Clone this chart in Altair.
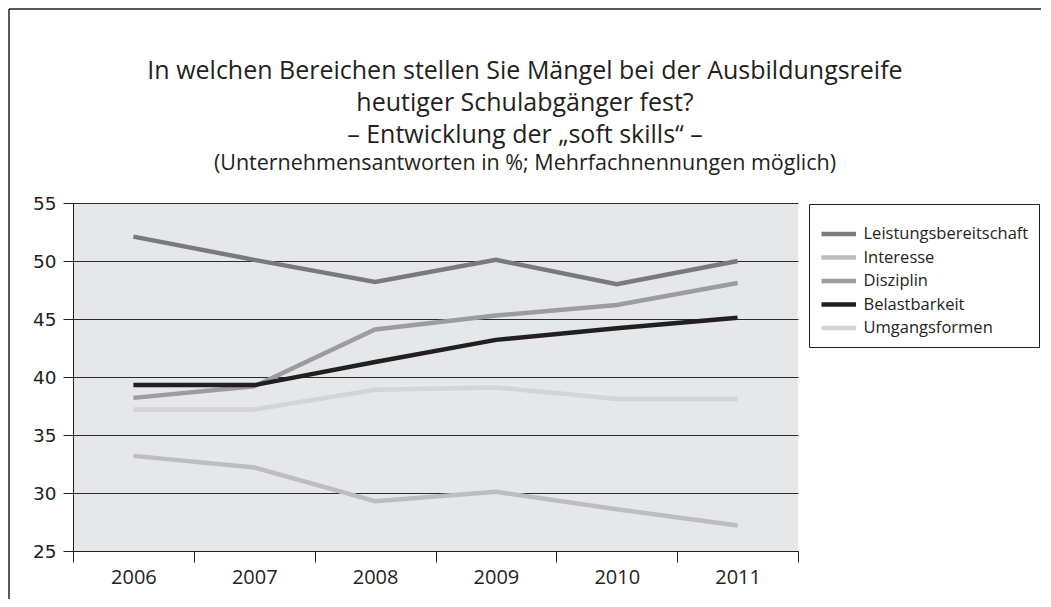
import altair as alt
import pandas as pd

years = ["2006", "2007", "2008", "2009", "2010", "2011"]
series = ["Leistungsbereitschaft", "Interesse", "Disziplin", "Belastbarkeit", "Umgangsformen"]
leistungsbereitschaft = [52.1, 50.1, 48.2, 50.1, 48.0, 50.0]
interesse = [33.2, 32.2, 29.3, 30.1, 28.6, 27.2]
disziplin = [38.2, 39.2, 44.1, 45.3, 46.2, 48.1]
belastbarkeit = [39.3, 39.3, 41.3, 43.2, 44.2, 45.1]
umgangsformen = [37.2, 37.2, 38.9, 39.1, 38.1, 38.1]
colors = ["#7a7a7c", "#bdbdbf", "#9c9c9e", "#231f20", "#d3d4d6"]

title_lines = [
    "In welchen Bereichen stellen Sie Mängel bei der Ausbildungsreife",
    "heutiger Schulabgänger fest?",
    "– Entwicklung der „soft skills“ –",
]
subtitle_line = "(Unternehmensantworten in %; Mehrfachnennungen möglich)"

values = [leistungsbereitschaft, interesse, disziplin, belastbarkeit, umgangsformen]
rows = []
for name, vals in zip(series, values):
    for y, v in zip(years, vals):
        rows.append({"Jahr": y, "Bereich": name, "Wert": v})
df = pd.DataFrame(rows)

W, H = 725, 348
TXT = "#231f20"

lines = alt.Chart(df).mark_line(strokeWidth=4.5, strokeCap="butt", strokeJoin="miter").encode(
    x=alt.X(
        "Jahr:O",
        sort=years,
        title=None,
        scale=alt.Scale(type="band", paddingInner=0, paddingOuter=0),
        axis=alt.Axis(
            tickBand="extent",
            labelAngle=0,
            tickSize=11,
            tickColor=TXT,
            domainColor=TXT,
            labelFont="Open Sans",
            labelFontSize=20,
            labelColor=TXT,
            labelPadding=5,
            grid=False,
        ),
    ),
    y=alt.Y(
        "Wert:Q",
        title=None,
        scale=alt.Scale(domain=[25, 55], nice=False, zero=False),
        axis=alt.Axis(
            values=[25, 30, 35, 40, 45, 50, 55],
            tickSize=10,
            tickColor=TXT,
            domainColor=TXT,
            gridColor="#2b2b2b",
            gridWidth=1,
            labelFont="DejaVu Sans",
            labelFontSize=18.5,
            labelColor=TXT,
            labelPadding=7,
        ),
    ),
    color=alt.Color(
        "Bereich:N",
        sort=series,
        scale=alt.Scale(domain=series, range=colors),
        legend=alt.Legend(
            title=" ",
            titleFontSize=2,
            titlePadding=4,
            orient="none",
            legendX=736,
            legendY=1,
            symbolType="M-1,0H2",
            symbolStrokeWidth=4.5,
            symbolSize=529,
            labelFont="Open Sans",
            labelFontSize=16.5,
            labelColor=TXT,
            labelOffset=16.5,
            labelLimit=400,
            padding=10,
            strokeColor=TXT,
            fillColor="white",
            rowPadding=0.5,
        ),
    ),
    detail="Bereich:N",
)

frame_df = pd.DataFrame({"k": [0]})
left_rule = alt.Chart(frame_df).mark_rule(color=TXT, strokeWidth=1.5).encode(
    x=alt.value(-64), y=alt.value(-194), y2=alt.value(396)
)
top_rule = alt.Chart(frame_df).mark_rule(color=TXT, strokeWidth=1.5).encode(
    x=alt.value(-64), x2=alt.value(968), y=alt.value(-194)
)

chart = alt.layer(lines, left_rule, top_rule).properties(
    width=W,
    height=H,
    padding={"left": 0, "top": 0, "right": 0, "bottom": 0},
    title=alt.TitleParams(
        text=title_lines,
        subtitle=subtitle_line,
        anchor="middle",
        frame="bounds",
        font="Open Sans",
        fontSize=25,
        fontWeight="normal",
        color=TXT,
        lineHeight=32,
        subtitleFont="Open Sans",
        subtitleFontSize=21.5,
        subtitleColor=TXT,
        subtitlePadding=5,
        offset=-166,
    ),
).configure_view(stroke=None, fill="#e6e7e8")

chart.save("out.html", embed_options={"renderer": "svg", "actions": False})
